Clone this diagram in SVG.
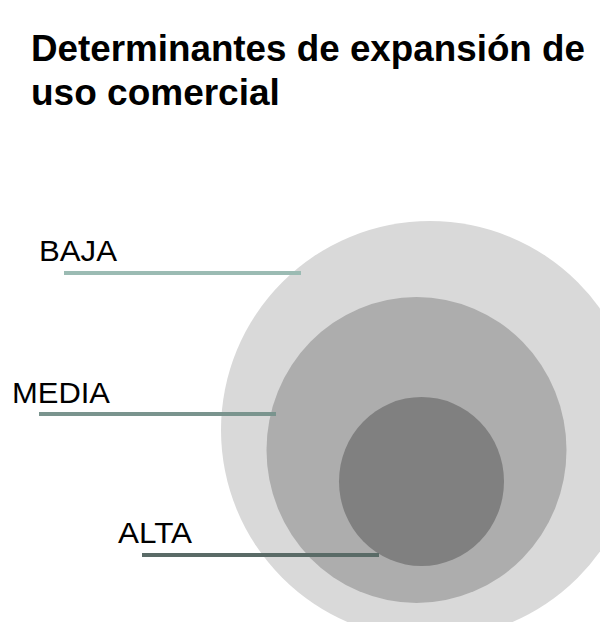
<svg xmlns="http://www.w3.org/2000/svg" width="600" height="622" viewBox="0 0 600 622">
<style>
.title{font-family:"Liberation Sans",Arial,sans-serif;font-weight:bold;font-size:37px;fill:#000}
.lbl{font-family:"Liberation Sans",Arial,sans-serif;font-size:30px;fill:#000}
.ln{stroke-width:4;fill:none}
</style>
<rect width="600" height="622" fill="#fff"/>
<g id="title">
<text class="title" x="31" y="61" textLength="554" lengthAdjust="spacingAndGlyphs">Determinantes de expansión de</text>
<text class="title" x="31" y="105">uso comercial</text>
</g>
<g id="baja-circle"><circle cx="430" cy="430" r="209" fill="#d9d9d9"/></g>
<g id="media-circle"><ellipse cx="416.5" cy="450" rx="150" ry="153" fill="#adadad"/></g>
<g id="alta-circle"><ellipse cx="421.5" cy="481.5" rx="82.5" ry="84.5" fill="#808080"/></g>
<g id="connectors">
<line class="ln" x1="64" y1="273" x2="301" y2="273" stroke="#9bbbb3"/>
<line class="ln" x1="39" y1="414" x2="276" y2="414" stroke="#7a948e"/>
<line class="ln" x1="142" y1="555" x2="379" y2="555" stroke="#5a6b67"/>
</g>
<g id="baja"><text class="lbl" x="39" y="261" textLength="78" lengthAdjust="spacingAndGlyphs">BAJA</text></g>
<g id="media"><text class="lbl" x="12" y="403" textLength="98" lengthAdjust="spacingAndGlyphs">MEDIA</text></g>
<g id="alta"><text class="lbl" x="118" y="543" textLength="74" lengthAdjust="spacingAndGlyphs">ALTA</text></g>
</svg>
